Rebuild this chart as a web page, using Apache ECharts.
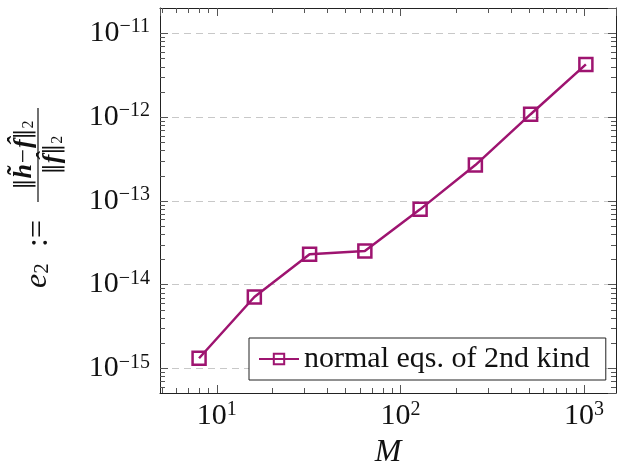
<!DOCTYPE html>
<html>
<head>
<meta charset="utf-8">
<script src="https://cdn.jsdelivr.net/npm/echarts@6/dist/echarts.min.js"></script>
<style>
  html, body { margin: 0; padding: 0; background: #fff; }
  #chart { width: 622px; height: 465px; }
</style>
</head>
<body>
<div id="chart"></div>
<script>
// data
var mValues = [8, 16, 32, 64, 128, 256, 512, 1024];
var errValues = [1.32e-15, 7.1e-15, 2.30e-14, 2.51e-14, 7.9e-14, 2.67e-13, 1.08e-12, 4.24e-12];
var seriesName = 'normal eqs. of 2nd kind';

// axis ranges and minor tick positions
var xRange = [4.9, 1494];
var yRange = [5.08e-16, 2.0e-11];
var xMinorTicks = [5, 6, 7, 8, 9, 20, 30, 40, 50, 60, 70, 80, 90, 200, 300, 400, 500, 600, 700, 800, 900];
var yMinorTicks = [6e-16, 7e-16, 8e-16, 9e-16,
  2e-15, 3e-15, 4e-15, 5e-15, 6e-15, 7e-15, 8e-15, 9e-15,
  2e-14, 3e-14, 4e-14, 5e-14, 6e-14, 7e-14, 8e-14, 9e-14,
  2e-13, 3e-13, 4e-13, 5e-13, 6e-13, 7e-13, 8e-13, 9e-13,
  2e-12, 3e-12, 4e-12, 5e-12, 6e-12, 7e-12, 8e-12, 9e-12];

var purple = '#9e1470';
var serif = '"Liberation Serif", "DejaVu Serif", serif';
var tickColor = '#555';

var points = mValues.map(function (m, i) { return [m, errValues[i]]; });

// 10^k label with superscript
function powLabel(v) {
  var e = Math.log10(v);
  var k = Math.round(e);
  if (Math.abs(e - k) > 1e-6) return '';
  return '{b|10}{s|' + (k < 0 ? '\u2212' + (-k) : k) + '}';
}
var powRich = {
  b: { fontSize: 30, fontFamily: serif, color: '#111', lineHeight: 32 },
  s: { fontSize: 20, fontFamily: serif, color: '#111', lineHeight: 20, verticalAlign: 'top' }
};

var myChart = echarts.init(document.getElementById('chart'), null, { renderer: 'canvas' });

var fracRich = {
  n: { fontFamily: '"DejaVu Serif", serif', fontSize: 22, fill: '#111', lineHeight: 26 },
  m: { fontFamily: serif, fontSize: 25, fill: '#111', lineHeight: 26, padding: [0, 1, 0, 1] },
  b: { fontFamily: serif, fontSize: 26, fontWeight: 'bold', fontStyle: 'italic', fill: '#111', lineHeight: 26 },
  s: { fontFamily: serif, fontSize: 16, fill: '#111', lineHeight: 16, verticalAlign: 'bottom' }
};

var option = {
  animation: false,
  backgroundColor: '#fff',
  grid: { left: 160, right: 6, top: 8, bottom: 72, outerBoundsMode: 'none', containLabel: false },
  legend: {
    data: [seriesName],
    left: 249,
    top: 338,
    orient: 'horizontal',
    backgroundColor: '#fff',
    borderColor: '#222',
    borderWidth: 1,
    borderRadius: 0,
    padding: [6, 16, 6, 9],
    itemWidth: 40,
    itemHeight: 13,
    textStyle: { fontFamily: serif, fontSize: 30, color: '#111', lineHeight: 30 }
  },
  xAxis: [{
    type: 'log',
    logBase: 10,
    min: xRange[0],
    max: xRange[1],
    name: 'M',
    nameLocation: 'middle',
    nameGap: 44,
    nameTextStyle: { fontFamily: serif, fontStyle: 'italic', fontSize: 32, color: '#111' },
    axisLine: { show: true, lineStyle: { color: '#222', width: 1 } },
    axisTick: { show: true, inside: true, length: 8, lineStyle: { color: tickColor } },
    axisLabel: {
      margin: 7,
      showMinLabel: false,
      showMaxLabel: false,
      formatter: powLabel,
      rich: powRich
    },
    splitLine: { show: false }
  }, {
    type: 'log',
    logBase: 10,
    position: 'top',
    min: xRange[0],
    max: xRange[1],
    axisLine: { show: true, lineStyle: { color: '#222', width: 1 } },
    axisTick: { show: true, inside: true, length: 8, lineStyle: { color: tickColor } },
    axisLabel: { show: false },
    splitLine: { show: false }
  }],
  yAxis: [{
    type: 'log',
    logBase: 10,
    min: yRange[0],
    max: yRange[1],
    axisLine: { show: true, lineStyle: { color: '#222', width: 1 } },
    axisTick: { show: true, inside: true, length: 8, lineStyle: { color: tickColor } },
    axisLabel: {
      margin: 10,
      showMinLabel: false,
      showMaxLabel: false,
      formatter: powLabel,
      rich: powRich
    },
    splitLine: { show: true, lineStyle: { color: '#c8c8c8', width: 1, type: [7, 5] } }
  }, {
    type: 'log',
    logBase: 10,
    position: 'right',
    min: yRange[0],
    max: yRange[1],
    axisLine: { show: true, lineStyle: { color: '#222', width: 1 } },
    axisTick: { show: true, inside: true, length: 8, lineStyle: { color: tickColor } },
    axisLabel: { show: false },
    splitLine: { show: false }
  }],
  series: [
    {
      // minor ticks along bottom and top
      type: 'custom',
      silent: true,
      xAxisIndex: 0,
      yAxisIndex: 0,
      data: xMinorTicks.map(function (v) { return [v, yRange[0]]; }),
      renderItem: function (params, api) {
        var p = api.coord([api.value(0), api.value(1)]);
        var cs = params.coordSys;
        var x = Math.round(p[0]) + 0.5;
        var yb = cs.y + cs.height, yt = cs.y;
        return {
          type: 'group',
          children: [
            { type: 'line', shape: { x1: x, y1: yb, x2: x, y2: yb - 5 }, style: { stroke: tickColor, lineWidth: 1 } },
            { type: 'line', shape: { x1: x, y1: yt, x2: x, y2: yt + 5 }, style: { stroke: tickColor, lineWidth: 1 } }
          ]
        };
      }
    },
    {
      // minor ticks along left and right
      type: 'custom',
      silent: true,
      xAxisIndex: 0,
      yAxisIndex: 0,
      data: yMinorTicks.map(function (v) { return [xRange[0], v]; }),
      renderItem: function (params, api) {
        var p = api.coord([api.value(0), api.value(1)]);
        var cs = params.coordSys;
        var y = Math.round(p[1]) + 0.5;
        var xl = cs.x, xr = cs.x + cs.width;
        return {
          type: 'group',
          children: [
            { type: 'line', shape: { x1: xl, y1: y, x2: xl + 5, y2: y }, style: { stroke: tickColor, lineWidth: 1 } },
            { type: 'line', shape: { x1: xr, y1: y, x2: xr - 5, y2: y }, style: { stroke: tickColor, lineWidth: 1 } }
          ]
        };
      }
    },
    {
      name: seriesName,
      type: 'line',
      xAxisIndex: 0,
      yAxisIndex: 0,
      data: points,
      color: purple,
      symbol: 'rect',
      symbolSize: 13,
      lineStyle: { color: purple, width: 2.5 },
      itemStyle: { color: 'rgba(255,255,255,0)', borderColor: purple, borderWidth: 2.5 },
      z: 5
    }
  ],
  graphic: [{
    // rotated y-axis label: e_2 := ||h~ - f^||_2 / ||f^||_2
    type: 'group',
    x: 38,
    y: 200,
    rotation: Math.PI / 2,
    children: [
      {
        type: 'text',
        x: -88, y: 0,
        style: {
          text: '{i|e}{sub|2}',
          align: 'left', verticalAlign: 'middle',
          rich: {
            i: { fontFamily: serif, fontStyle: 'italic', fontSize: 32, fill: '#111', lineHeight: 30 },
            sub: { fontFamily: serif, fontSize: 21, fill: '#111', lineHeight: 20, verticalAlign: 'bottom' }
          }
        }
      },
      {
        type: 'text',
        x: -47, y: 1,
        style: { text: ':=', align: 'left', verticalAlign: 'middle', fontFamily: serif, fontSize: 32, fill: '#111' }
      },
      {
        type: 'line',
        shape: { x1: -2, y1: 0, x2: 92, y2: 0 },
        style: { stroke: '#111', lineWidth: 1.2 }
      },
      {
        type: 'text',
        x: 45, y: -1,
        style: {
          text: '{n|\u2016}{b|h\u0303}{m|\u2212}{b|f\u0302}{n|\u2016}{s|2}',
          align: 'center', verticalAlign: 'bottom',
          rich: fracRich
        }
      },
      {
        type: 'text',
        x: 45, y: 2,
        style: {
          text: '{n|\u2016}{b|f\u0302}{n|\u2016}{s|2}',
          align: 'center', verticalAlign: 'top',
          rich: fracRich
        }
      }
    ]
  }]
};

myChart.setOption(option);
</script>
</body>
</html>
